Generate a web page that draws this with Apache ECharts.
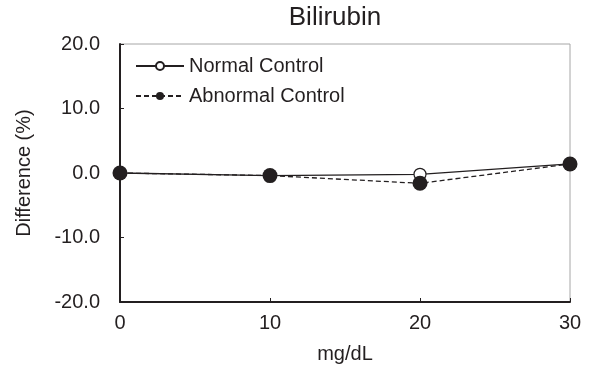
<!DOCTYPE html>
<html>
<head>
<meta charset="utf-8">
<script src="https://cdn.jsdelivr.net/npm/echarts@6/dist/echarts.min.js"></script>
<style>
  html, body { margin: 0; padding: 0; background: #fff; }
  #chart { width: 591px; height: 371px; }
</style>
</head>
<body>
<div id="chart"></div>
<script>
// Bilirubin interference: percent difference by concentration
const concentrations = [0, 10, 20, 30];           // mg/dL
const normalControl = [0.0, -0.4, -0.2, 1.4];      // %
const abnormalControl = [0.0, -0.4, -1.6, 1.4];    // %
const yTicks = [-20, -10, 0, 10, 20];
const xTicks = [0, 10, 20, 30];

const ink = '#231f20';
const font = 'Liberation Sans, Arial, sans-serif';

const chart = echarts.init(document.getElementById('chart'), null, { renderer: 'canvas' });

chart.setOption({
  animation: false,
  backgroundColor: '#fff',
  title: {
    text: 'Bilirubin',
    left: 330,
    textAlign: 'center',
    top: 0,
    textStyle: { fontFamily: font, fontSize: 26, fontWeight: 'normal', color: ink }
  },
  legend: {
    left: 130,
    top: 51,
    orient: 'vertical',
    itemWidth: 48,
    itemHeight: 10,
    itemGap: 10,
    textStyle: { fontFamily: font, fontSize: 20, color: ink },
    data: ['Normal Control', 'Abnormal Control']
  },
  grid: {
    left: 120,
    right: 21,
    top: 44,
    bottom: 69,
    show: true,
    borderColor: '#a6a6a6',
    borderWidth: 1,
    backgroundColor: 'transparent'
  },
  xAxis: {
    type: 'value',
    min: xTicks[0],
    max: xTicks[xTicks.length - 1],
    interval: 10,
    name: 'mg/dL',
    nameLocation: 'middle',
    nameGap: 42,
    nameTextStyle: { fontFamily: font, fontSize: 20, color: ink },
    axisLine: { onZero: false, lineStyle: { color: ink, width: 2 } },
    axisTick: { inside: true, length: 4, lineStyle: { color: ink, width: 1 } },
    axisLabel: { margin: 11, fontFamily: font, fontSize: 20, color: ink },
    splitLine: { show: false }
  },
  yAxis: {
    type: 'value',
    min: yTicks[0],
    max: yTicks[yTicks.length - 1],
    interval: 10,
    name: 'Difference (%)',
    nameLocation: 'middle',
    nameGap: 86,
    nameTextStyle: { fontFamily: font, fontSize: 20, color: ink },
    axisLine: { show: true, lineStyle: { color: ink, width: 2 } },
    axisTick: { show: true, inside: true, length: 4, lineStyle: { color: ink, width: 1 } },
    axisLabel: {
      margin: 20,
      fontFamily: font,
      fontSize: 20,
      color: ink,
      formatter: v => v.toFixed(1)
    },
    splitLine: { show: false }
  },
  series: [
    {
      name: 'Normal Control',
      type: 'line',
      data: concentrations.map((c, i) => [c, normalControl[i]]),
      symbol: 'circle',
      symbolSize: 12,
      itemStyle: { color: '#fff', borderColor: ink, borderWidth: 1.2 },
      lineStyle: { color: ink, width: 1.3, type: 'solid' },
      z: 2
    },
    {
      name: 'Abnormal Control',
      type: 'line',
      data: concentrations.map((c, i) => [c, abnormalControl[i]]),
      symbol: 'circle',
      symbolSize: 15,
      itemStyle: { color: ink, borderColor: ink, borderWidth: 0 },
      lineStyle: { color: ink, width: 1.3, type: [5, 3] },
      z: 3
    }
  ]
});
</script>
</body>
</html>
